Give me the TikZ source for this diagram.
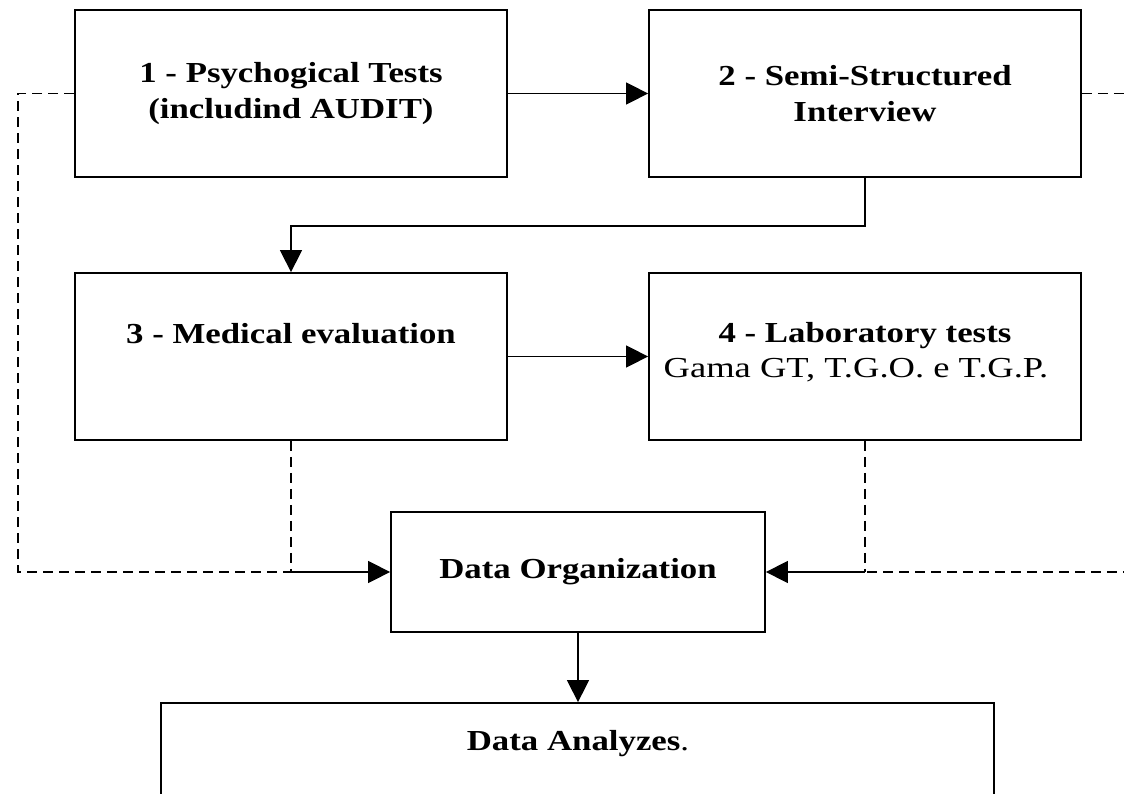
\documentclass[tikz,border=0pt]{standalone}
\usepackage{fontspec}
\setmainfont{Liberation Serif}
\usepackage{graphicx}
\usetikzlibrary{arrows.meta}
\newcommand\wtext[1]{\scalebox{1.2}[1]{#1}}
\begin{document}
\begin{tikzpicture}[x=1pt,y=-1pt,
  box/.style={draw, line width=1.8pt, inner sep=0pt, align=center, font=\fontsize{29}{36}\selectfont\bfseries},
  bigbox/.style={box, minimum width=432pt, minimum height=167pt},
  lbl/.style={inner sep=0pt, align=center, font=\fontsize{29}{35}\selectfont\bfseries},
  arr/.style={line width=1.5pt, -{Triangle[length=22pt,width=22pt]}},
  dconn/.style={line width=1.5pt, dash pattern=on 10pt off 6pt},
]
\useasboundingbox (0,0) rectangle (1124,794);

\node[bigbox] (b1) at (291,93.5) {\wtext{1 - Psychogical Tests}\\\wtext{(includind AUDIT)}};
\node[bigbox] (b2) at (865,93.5) {\wtext{2 - Semi-Structured}\\\wtext{Interview}};
\node[bigbox] (b3) at (291,356.5) {};
\node[lbl, anchor=base] (t3) at (291,343) {\wtext{3 - Medical evaluation}};
\node[bigbox] (b4) at (865,356.5) {};
\node[lbl] (t4) at (865,352) {\wtext{4 - Laboratory tests}\\\scalebox{1.26}[1]{\mdseries Gama GT, T.G.O. e T.G.P.}\hspace*{18pt}};
\node[box, minimum width=374pt, minimum height=120pt] (org) at (578,572) {\wtext{Data Organization}};
\node[box, minimum width=833pt, minimum height=117pt] (ana) at (577.5,761.5) {};
\node[lbl, anchor=base] (ta) at (578,750) {\wtext{Data Analyzes\mdseries.}};

\coordinate (jl) at (b3.south |- org.west);
\coordinate (jr) at (b4.south |- org.east);
\coordinate (lc1) at (18,93.5);
\coordinate (lc2) at (18,572);
\coordinate (rc1) at (1140,93.5);
\coordinate (rc2) at (1140,572);

\draw[arr] (b1.east) -- (b2.west);
\draw[arr] (b2.south) -- ++(0,48) -| (b3.north);
\draw[arr] (b3.east) -- (b4.west);
\draw[arr] (org.south) -- (org.south |- ana.north);

\draw[dconn] (b1.west) -- (lc1) -- (lc2) -- (jl);
\draw[dconn] (b3.south) -- (jl);
\draw[arr] (jl) -- (org.west);
\draw[dconn] (b2.east) -- (rc1) -- (rc2) -- (jr);
\draw[dconn] (b4.south) -- (jr);
\draw[arr] (jr) -- (org.east);
\end{tikzpicture}
\end{document}
